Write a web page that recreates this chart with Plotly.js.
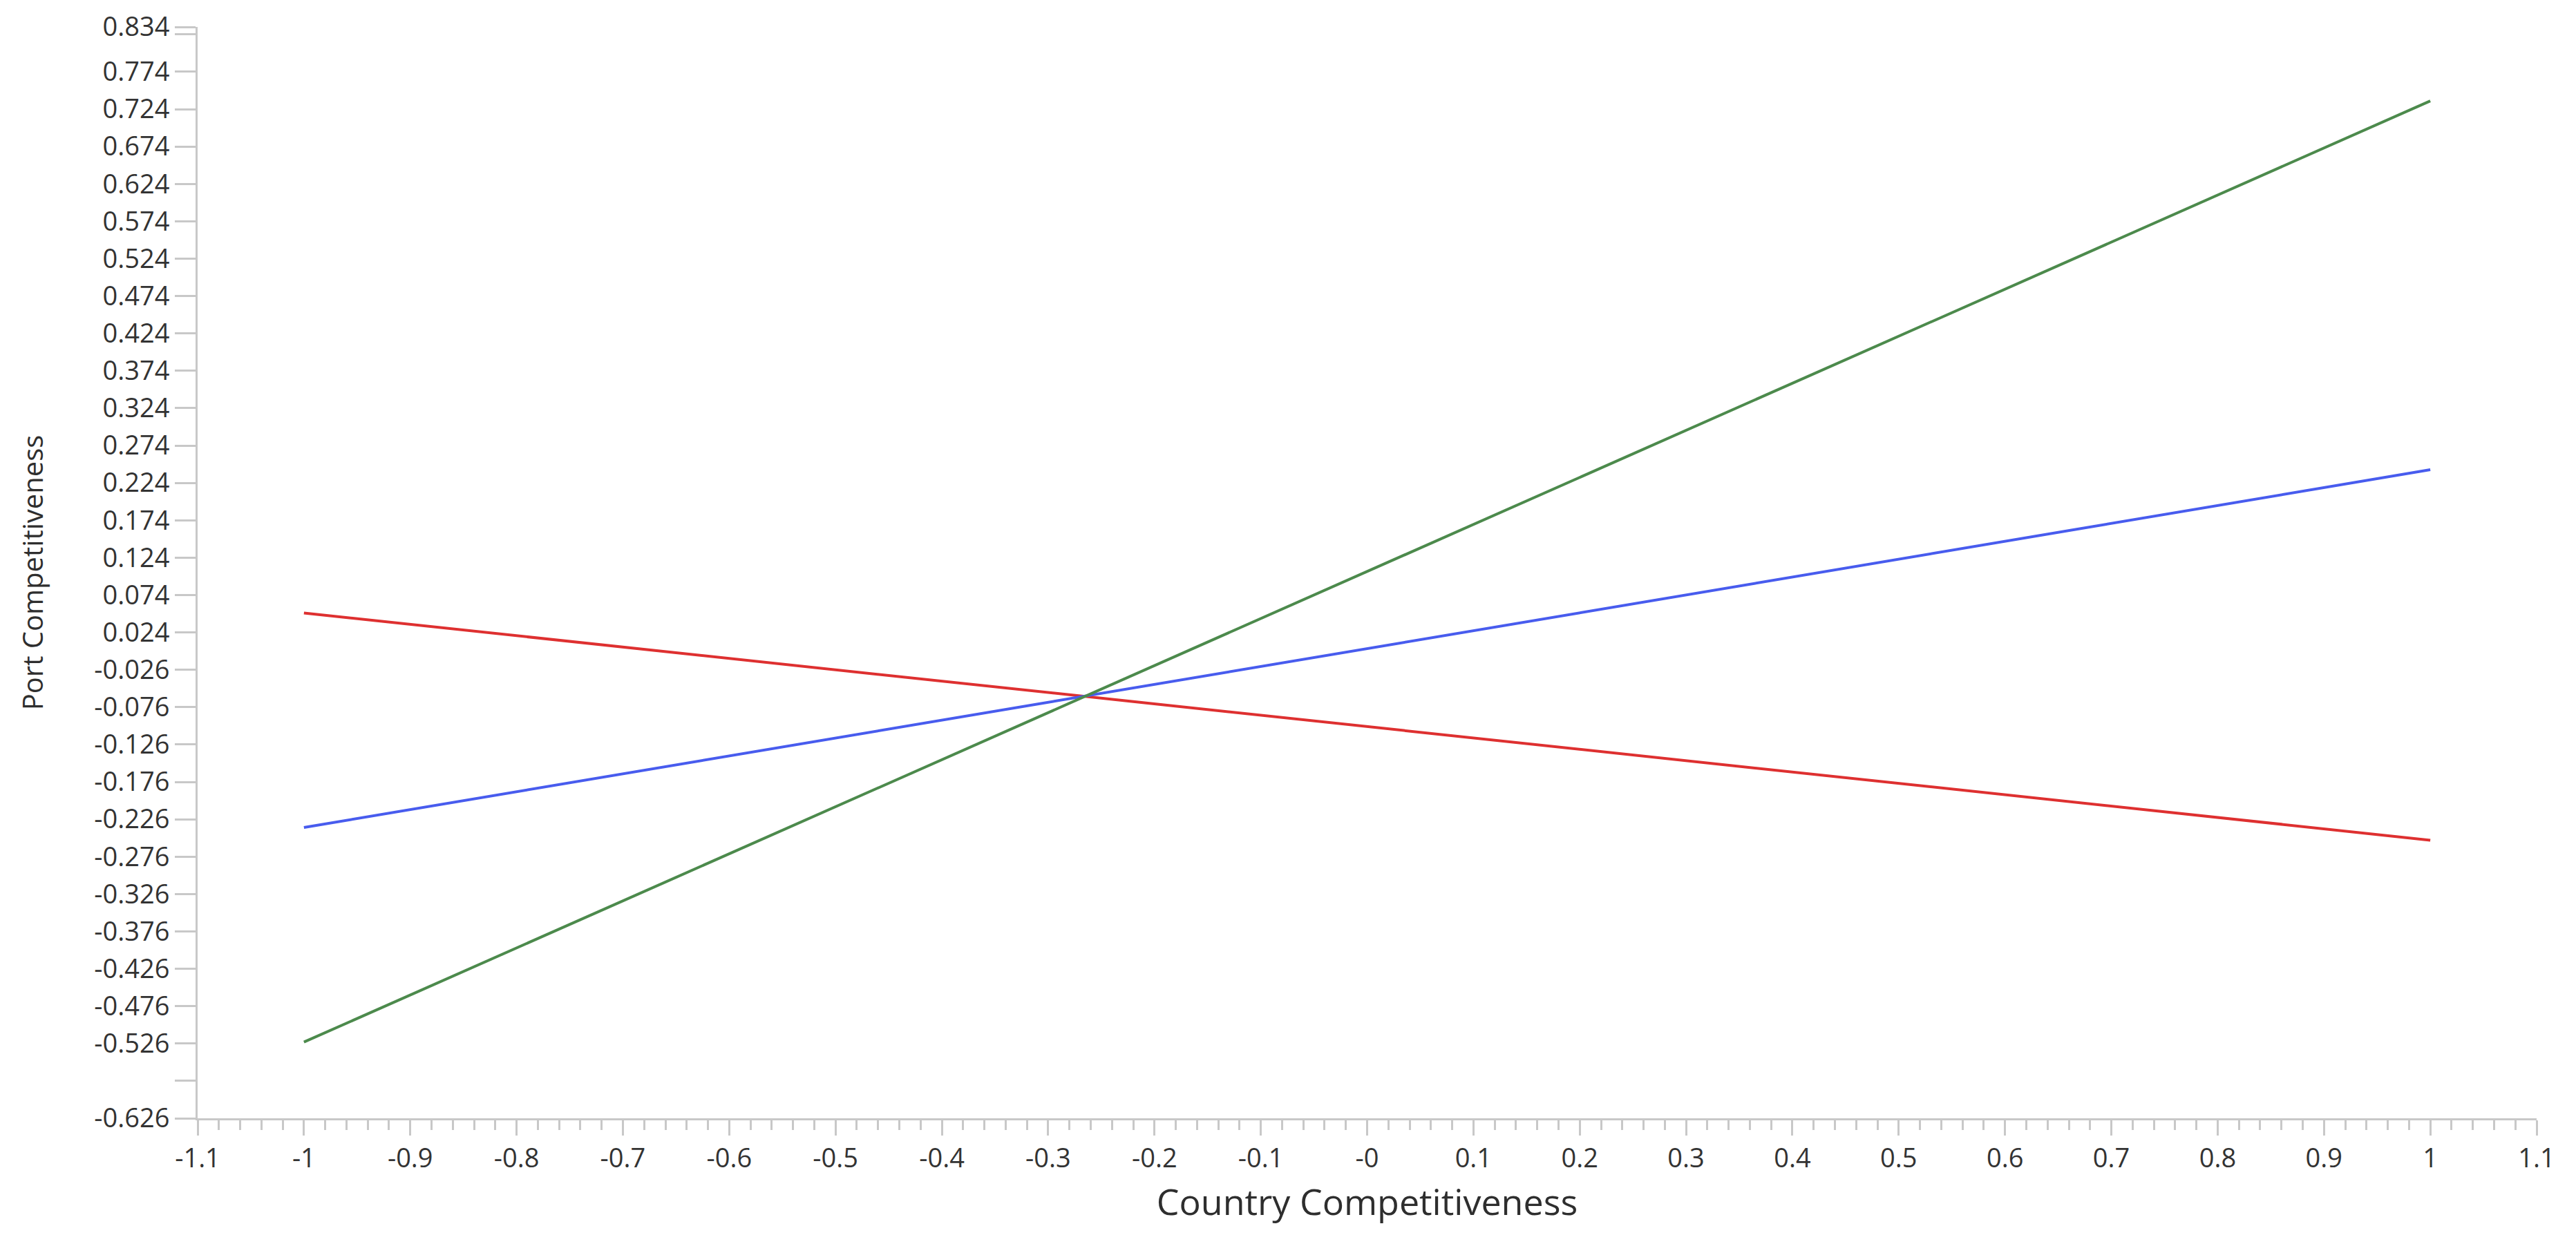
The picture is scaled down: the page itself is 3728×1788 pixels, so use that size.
<!DOCTYPE html>
<html>
<head>
<meta charset="utf-8">
<script src="https://cdn.plot.ly/plotly-3.0.1.min.js"></script>
<style>
  html, body { margin: 0; padding: 0; background: #ffffff; }
  #chart { width: 3728px; height: 1788px; }
</style>
</head>
<body>
<div id="chart"></div>
<script>
// Data
const xValues = [-1, 1];
const redSeries = [0.050, -0.254];
const blueSeries = [-0.237, 0.2416];
const greenSeries = [-0.524, 0.735];

const xTickVals = [-1.1, -1, -0.9, -0.8, -0.7, -0.6, -0.5, -0.4, -0.3, -0.2, -0.1, 0, 0.1, 0.2, 0.3, 0.4, 0.5, 0.6, 0.7, 0.8, 0.9, 1, 1.1];
const xTickText = ["-1.1", "-1", "-0.9", "-0.8", "-0.7", "-0.6", "-0.5", "-0.4", "-0.3", "-0.2", "-0.1", "-0", "0.1", "0.2", "0.3", "0.4", "0.5", "0.6", "0.7", "0.8", "0.9", "1", "1.1"];

const yTickVals = [0.834, 0.824, 0.774, 0.724, 0.674, 0.624, 0.574, 0.524, 0.474, 0.424, 0.374, 0.324, 0.274, 0.224, 0.174, 0.124, 0.074, 0.024, -0.026, -0.076, -0.126, -0.176, -0.226, -0.276, -0.326, -0.376, -0.426, -0.476, -0.526, -0.576, -0.626];
const yTickText = ["0.834", "", "0.774", "0.724", "0.674", "0.624", "0.574", "0.524", "0.474", "0.424", "0.374", "0.324", "0.274", "0.224", "0.174", "0.124", "0.074", "0.024", "-0.026", "-0.076", "-0.126", "-0.176", "-0.226", "-0.276", "-0.326", "-0.376", "-0.426", "-0.476", "-0.526", "", "-0.626"];

const xTitle = "Country Competitiveness";
const yTitle = "Port Competitiveness";

const traces = [
  { x: xValues, y: redSeries, mode: 'lines', name: 'Low', line: { color: 'rgb(222,48,48)', width: 4 } },
  { x: xValues, y: blueSeries, mode: 'lines', name: 'Mean', line: { color: 'rgb(72,92,238)', width: 4 } },
  { x: xValues, y: greenSeries, mode: 'lines', name: 'High', line: { color: 'rgb(76,138,76)', width: 4 } }
];

const axisColor = '#c8c8c8';
const fontFamily = '"Open Sans", "Noto Sans", sans-serif';

const layout = {
  width: 3728,
  height: 1788,
  paper_bgcolor: '#ffffff',
  plot_bgcolor: '#ffffff',
  showlegend: false,
  margin: { l: 286, r: 57, t: 39, b: 169, pad: 0 },
  font: { family: fontFamily, color: '#333333', size: 38 },
  xaxis: {
    range: [-1.1, 1.1],
    tickmode: 'array',
    tickvals: xTickVals,
    ticktext: xTickText,
    showgrid: false,
    zeroline: false,
    showline: true,
    linecolor: axisColor,
    linewidth: 3,
    ticks: 'outside',
    ticklen: 22,
    tickwidth: 3,
    tickcolor: axisColor,
    tickfont: { family: fontFamily, size: 38, color: '#333333' },
    minor: { dtick: 0.02, ticks: 'outside', ticklen: 14, tickwidth: 3, tickcolor: axisColor, showgrid: false },
    title: { text: xTitle, font: { family: fontFamily, size: 52, color: '#2e2e2e' }, standoff: 24 }
  },
  yaxis: {
    range: [-0.626, 0.834],
    tickmode: 'array',
    tickvals: yTickVals,
    ticktext: yTickText,
    showgrid: false,
    zeroline: false,
    showline: true,
    linecolor: axisColor,
    linewidth: 3,
    ticks: 'outside',
    ticklen: 30,
    tickwidth: 3,
    tickcolor: axisColor,
    tickfont: { family: fontFamily, size: 38, color: '#333333' },
    title: { text: yTitle, font: { family: fontFamily, size: 40, color: '#2e2e2e' }, standoff: 62 }
  }
};

Plotly.newPlot('chart', traces, layout, { displayModeBar: false, staticPlot: true });
</script>
</body>
</html>
